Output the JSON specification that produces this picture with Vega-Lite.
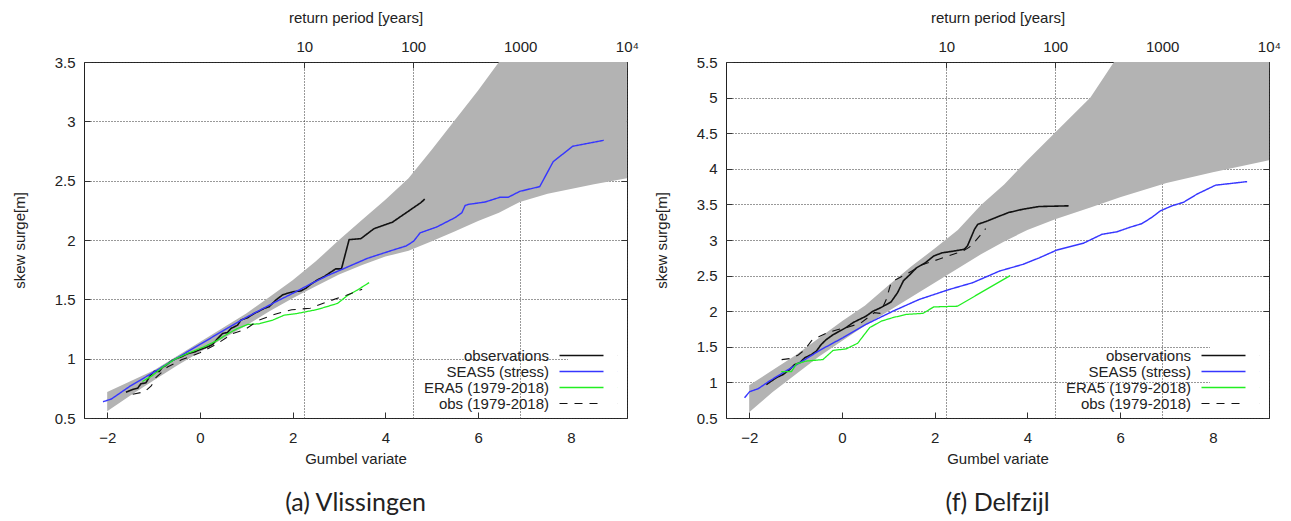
{
  "$schema": "https://vega.github.io/schema/vega-lite/v6.json",
  "background": "white",
  "padding": {"left": 11, "top": 9, "right": 5, "bottom": 0},
  "config": {
    "font": "Liberation Sans",
    "view": {"stroke": "#222", "strokeWidth": 1},
    "axis": {
      "labelFont": "Liberation Sans", "labelFontSize": 15, "labelColor": "#222",
      "titleFont": "Liberation Sans", "titleFontSize": 15, "titleFontWeight": "normal", "titleColor": "#222",
      "domain": false, "tickColor": "#333", "tickWidth": 1,
      "gridColor": "#333", "gridDash": [1, 2], "gridOpacity": 1, "gridWidth": 1,
      "zindex": 1, "labelFlush": false, "labelOverlap": false
    },
    "legend": {
      "orient": "bottom-right", "offset": 0, "padding": 6, "fillColor": "white",
      "labelFont": "Liberation Sans", "labelFontSize": 15, "labelColor": "#222",
      "labelAlign": "right", "labelOffset": -40,
      "symbolType": "M-4,0H4M6.5,0H6.51", "symbolSize": 121, "symbolStrokeWidth": 1.6,
      "rowPadding": 0, "zindex": 2
    },
    "title": {"font": "Lato", "fontSize": 25, "fontWeight": "normal", "color": "#222", "orient": "bottom", "anchor": "middle", "offset": 25}
  },
  "datasets": {
    "a_band": [
      {"g": -2.0, "lo": 0.556, "hi": 0.72},
      {"g": -1.5, "lo": 0.69, "hi": 0.81},
      {"g": -1.0, "lo": 0.816, "hi": 0.9},
      {"g": -0.5, "lo": 0.94, "hi": 1.02},
      {"g": 0.0, "lo": 1.056, "hi": 1.14},
      {"g": 0.5, "lo": 1.17, "hi": 1.26},
      {"g": 1.0, "lo": 1.28, "hi": 1.38},
      {"g": 1.5, "lo": 1.4, "hi": 1.52},
      {"g": 2.0, "lo": 1.51, "hi": 1.66},
      {"g": 2.5, "lo": 1.61, "hi": 1.82},
      {"g": 3.0, "lo": 1.71, "hi": 2.0},
      {"g": 3.5, "lo": 1.79, "hi": 2.17},
      {"g": 4.0, "lo": 1.86, "hi": 2.34},
      {"g": 4.5, "lo": 1.91, "hi": 2.52},
      {"g": 5.0, "lo": 1.99, "hi": 2.76},
      {"g": 5.48, "lo": 2.07, "hi": 3.0},
      {"g": 6.0, "lo": 2.16, "hi": 3.26},
      {"g": 6.45, "lo": 2.23, "hi": 3.5},
      {"g": 6.9, "lo": 2.32, "hi": 3.75},
      {"g": 7.5, "lo": 2.39, "hi": 4.1},
      {"g": 8.0, "lo": 2.43, "hi": 4.4},
      {"g": 8.5, "lo": 2.47, "hi": 4.7},
      {"g": 9.21, "lo": 2.52, "hi": 5.1}
    ],
    "a_lines": [
      {"series": "observations", "g": -1.595, "v": 0.718},
      {"series": "observations", "g": -1.451, "v": 0.74},
      {"series": "observations", "g": -1.343, "v": 0.751},
      {"series": "observations", "g": -1.272, "v": 0.788},
      {"series": "observations", "g": -1.164, "v": 0.797},
      {"series": "observations", "g": -1.07, "v": 0.859},
      {"series": "observations", "g": -0.984, "v": 0.893},
      {"series": "observations", "g": -0.876, "v": 0.893},
      {"series": "observations", "g": -0.805, "v": 0.929},
      {"series": "observations", "g": -0.733, "v": 0.944},
      {"series": "observations", "g": -0.625, "v": 0.977},
      {"series": "observations", "g": -0.517, "v": 1.0},
      {"series": "observations", "g": -0.409, "v": 1.014},
      {"series": "observations", "g": -0.266, "v": 1.042},
      {"series": "observations", "g": -0.122, "v": 1.056},
      {"series": "observations", "g": 0.022, "v": 1.079},
      {"series": "observations", "g": 0.165, "v": 1.099},
      {"series": "observations", "g": 0.273, "v": 1.119},
      {"series": "observations", "g": 0.381, "v": 1.169},
      {"series": "observations", "g": 0.489, "v": 1.212},
      {"series": "observations", "g": 0.596, "v": 1.22},
      {"series": "observations", "g": 0.668, "v": 1.254},
      {"series": "observations", "g": 0.812, "v": 1.282},
      {"series": "observations", "g": 0.884, "v": 1.325},
      {"series": "observations", "g": 1.027, "v": 1.345},
      {"series": "observations", "g": 1.171, "v": 1.381},
      {"series": "observations", "g": 1.279, "v": 1.401},
      {"series": "observations", "g": 1.387, "v": 1.424},
      {"series": "observations", "g": 1.494, "v": 1.438},
      {"series": "observations", "g": 1.638, "v": 1.494},
      {"series": "observations", "g": 1.782, "v": 1.537},
      {"series": "observations", "g": 1.889, "v": 1.551},
      {"series": "observations", "g": 2.033, "v": 1.565},
      {"series": "observations", "g": 2.177, "v": 1.571},
      {"series": "observations", "g": 2.284, "v": 1.593},
      {"series": "observations", "g": 2.392, "v": 1.627},
      {"series": "observations", "g": 2.536, "v": 1.664},
      {"series": "observations", "g": 2.68, "v": 1.692},
      {"series": "observations", "g": 2.787, "v": 1.72},
      {"series": "observations", "g": 2.931, "v": 1.757},
      {"series": "observations", "g": 3.053, "v": 1.757},
      {"series": "observations", "g": 3.218, "v": 2.003},
      {"series": "observations", "g": 3.47, "v": 2.011},
      {"series": "observations", "g": 3.757, "v": 2.096},
      {"series": "observations", "g": 4.152, "v": 2.15},
      {"series": "observations", "g": 4.763, "v": 2.314},
      {"series": "observations", "g": 4.85, "v": 2.345},
      {"series": "SEAS5 (stress)", "g": -2.09, "v": 0.637},
      {"series": "SEAS5 (stress)", "g": -1.91, "v": 0.66},
      {"series": "SEAS5 (stress)", "g": -1.5, "v": 0.77},
      {"series": "SEAS5 (stress)", "g": -1.0, "v": 0.885},
      {"series": "SEAS5 (stress)", "g": -0.52, "v": 1.0},
      {"series": "SEAS5 (stress)", "g": 0.0, "v": 1.12},
      {"series": "SEAS5 (stress)", "g": 0.5, "v": 1.235},
      {"series": "SEAS5 (stress)", "g": 0.96, "v": 1.34},
      {"series": "SEAS5 (stress)", "g": 1.3, "v": 1.41},
      {"series": "SEAS5 (stress)", "g": 1.64, "v": 1.48},
      {"series": "SEAS5 (stress)", "g": 2.0, "v": 1.55},
      {"series": "SEAS5 (stress)", "g": 2.39, "v": 1.63},
      {"series": "SEAS5 (stress)", "g": 2.75, "v": 1.7},
      {"series": "SEAS5 (stress)", "g": 3.11, "v": 1.76},
      {"series": "SEAS5 (stress)", "g": 3.61, "v": 1.845},
      {"series": "SEAS5 (stress)", "g": 4.12, "v": 1.91},
      {"series": "SEAS5 (stress)", "g": 4.45, "v": 1.95},
      {"series": "SEAS5 (stress)", "g": 4.61, "v": 1.99},
      {"series": "SEAS5 (stress)", "g": 4.75, "v": 2.06},
      {"series": "SEAS5 (stress)", "g": 5.11, "v": 2.11},
      {"series": "SEAS5 (stress)", "g": 5.51, "v": 2.19},
      {"series": "SEAS5 (stress)", "g": 5.65, "v": 2.23},
      {"series": "SEAS5 (stress)", "g": 5.72, "v": 2.29},
      {"series": "SEAS5 (stress)", "g": 5.79, "v": 2.3},
      {"series": "SEAS5 (stress)", "g": 6.15, "v": 2.32},
      {"series": "SEAS5 (stress)", "g": 6.47, "v": 2.36},
      {"series": "SEAS5 (stress)", "g": 6.65, "v": 2.36},
      {"series": "SEAS5 (stress)", "g": 6.9, "v": 2.41},
      {"series": "SEAS5 (stress)", "g": 7.33, "v": 2.45},
      {"series": "SEAS5 (stress)", "g": 7.62, "v": 2.66},
      {"series": "SEAS5 (stress)", "g": 8.04, "v": 2.79},
      {"series": "SEAS5 (stress)", "g": 8.71, "v": 2.84},
      {"series": "ERA5 (1979-2018)", "g": -1.24, "v": 0.808},
      {"series": "ERA5 (1979-2018)", "g": -1.02, "v": 0.859},
      {"series": "ERA5 (1979-2018)", "g": -0.8, "v": 0.93},
      {"series": "ERA5 (1979-2018)", "g": -0.52, "v": 1.0},
      {"series": "ERA5 (1979-2018)", "g": -0.19, "v": 1.056},
      {"series": "ERA5 (1979-2018)", "g": 0.09, "v": 1.1},
      {"series": "ERA5 (1979-2018)", "g": 0.38, "v": 1.155},
      {"series": "ERA5 (1979-2018)", "g": 0.6, "v": 1.21},
      {"series": "ERA5 (1979-2018)", "g": 0.81, "v": 1.254},
      {"series": "ERA5 (1979-2018)", "g": 1.03, "v": 1.288},
      {"series": "ERA5 (1979-2018)", "g": 1.28, "v": 1.294},
      {"series": "ERA5 (1979-2018)", "g": 1.57, "v": 1.325},
      {"series": "ERA5 (1979-2018)", "g": 1.82, "v": 1.367},
      {"series": "ERA5 (1979-2018)", "g": 2.1, "v": 1.381},
      {"series": "ERA5 (1979-2018)", "g": 2.54, "v": 1.415},
      {"series": "ERA5 (1979-2018)", "g": 2.97, "v": 1.466},
      {"series": "ERA5 (1979-2018)", "g": 3.18, "v": 1.531},
      {"series": "ERA5 (1979-2018)", "g": 3.4, "v": 1.579},
      {"series": "ERA5 (1979-2018)", "g": 3.65, "v": 1.641},
      {"series": "obs (1979-2018)", "g": -1.45, "v": 0.7},
      {"series": "obs (1979-2018)", "g": -1.2, "v": 0.72},
      {"series": "obs (1979-2018)", "g": -1.05, "v": 0.77},
      {"series": "obs (1979-2018)", "g": -0.95, "v": 0.84},
      {"series": "obs (1979-2018)", "g": -0.7, "v": 0.93},
      {"series": "obs (1979-2018)", "g": -0.4, "v": 0.99},
      {"series": "obs (1979-2018)", "g": -0.2, "v": 1.02},
      {"series": "obs (1979-2018)", "g": 0.0, "v": 1.05},
      {"series": "obs (1979-2018)", "g": 0.2, "v": 1.09},
      {"series": "obs (1979-2018)", "g": 0.35, "v": 1.12},
      {"series": "obs (1979-2018)", "g": 0.7, "v": 1.21},
      {"series": "obs (1979-2018)", "g": 0.97, "v": 1.245},
      {"series": "obs (1979-2018)", "g": 1.27, "v": 1.325},
      {"series": "obs (1979-2018)", "g": 1.62, "v": 1.375},
      {"series": "obs (1979-2018)", "g": 1.98, "v": 1.412},
      {"series": "obs (1979-2018)", "g": 2.38, "v": 1.425},
      {"series": "obs (1979-2018)", "g": 2.75, "v": 1.48},
      {"series": "obs (1979-2018)", "g": 3.16, "v": 1.535},
      {"series": "obs (1979-2018)", "g": 3.5, "v": 1.585}
    ],
    "f_band": [
      {"g": -2.0, "lo": 0.58, "hi": 0.96},
      {"g": -1.5, "lo": 0.86, "hi": 1.17},
      {"g": -1.0, "lo": 1.11, "hi": 1.38},
      {"g": -0.5, "lo": 1.36, "hi": 1.62},
      {"g": 0.0, "lo": 1.58, "hi": 1.86},
      {"g": 0.5, "lo": 1.8, "hi": 2.08},
      {"g": 1.0, "lo": 2.0, "hi": 2.36},
      {"g": 1.5, "lo": 2.2, "hi": 2.63},
      {"g": 2.0, "lo": 2.4, "hi": 2.88},
      {"g": 2.5, "lo": 2.6, "hi": 3.14},
      {"g": 3.0, "lo": 2.8, "hi": 3.49},
      {"g": 3.5, "lo": 2.98, "hi": 3.78},
      {"g": 4.0, "lo": 3.14, "hi": 4.12},
      {"g": 4.6, "lo": 3.29, "hi": 4.51},
      {"g": 5.36, "lo": 3.455, "hi": 5.0},
      {"g": 6.0, "lo": 3.6, "hi": 5.63},
      {"g": 7.0, "lo": 3.8, "hi": 6.3},
      {"g": 8.0, "lo": 3.95, "hi": 7.0},
      {"g": 9.22, "lo": 4.12, "hi": 7.9}
    ],
    "f_lines": [
      {"series": "observations", "g": -1.63, "v": 0.97},
      {"series": "observations", "g": -1.415, "v": 1.066},
      {"series": "observations", "g": -1.27, "v": 1.11},
      {"series": "observations", "g": -1.13, "v": 1.18},
      {"series": "observations", "g": -1.02, "v": 1.25},
      {"series": "observations", "g": -0.91, "v": 1.276},
      {"series": "observations", "g": -0.8, "v": 1.346},
      {"series": "observations", "g": -0.66, "v": 1.39},
      {"series": "observations", "g": -0.55, "v": 1.44},
      {"series": "observations", "g": -0.45, "v": 1.53},
      {"series": "observations", "g": -0.34, "v": 1.6},
      {"series": "observations", "g": -0.19, "v": 1.67},
      {"series": "observations", "g": -0.05, "v": 1.72},
      {"series": "observations", "g": 0.09, "v": 1.77},
      {"series": "observations", "g": 0.24, "v": 1.84},
      {"series": "observations", "g": 0.38, "v": 1.885},
      {"series": "observations", "g": 0.52, "v": 1.93},
      {"series": "observations", "g": 0.67, "v": 2.0},
      {"series": "observations", "g": 0.81, "v": 2.04},
      {"series": "observations", "g": 0.95, "v": 2.09},
      {"series": "observations", "g": 1.06, "v": 2.13},
      {"series": "observations", "g": 1.2, "v": 2.26},
      {"series": "observations", "g": 1.33, "v": 2.43},
      {"series": "observations", "g": 1.46, "v": 2.51},
      {"series": "observations", "g": 1.61, "v": 2.61},
      {"series": "observations", "g": 1.8, "v": 2.68},
      {"series": "observations", "g": 1.98, "v": 2.775},
      {"series": "observations", "g": 2.16, "v": 2.82},
      {"series": "observations", "g": 2.42, "v": 2.845},
      {"series": "observations", "g": 2.64, "v": 2.87},
      {"series": "observations", "g": 2.71, "v": 2.92},
      {"series": "observations", "g": 2.86, "v": 3.15},
      {"series": "observations", "g": 2.93, "v": 3.22},
      {"series": "observations", "g": 3.15, "v": 3.27},
      {"series": "observations", "g": 3.3, "v": 3.31},
      {"series": "observations", "g": 3.59, "v": 3.385},
      {"series": "observations", "g": 3.89, "v": 3.43},
      {"series": "observations", "g": 4.25, "v": 3.47},
      {"series": "observations", "g": 4.89, "v": 3.48},
      {"series": "SEAS5 (stress)", "g": -2.1, "v": 0.785},
      {"series": "SEAS5 (stress)", "g": -1.99, "v": 0.87},
      {"series": "SEAS5 (stress)", "g": -1.81, "v": 0.91},
      {"series": "SEAS5 (stress)", "g": -1.56, "v": 1.02},
      {"series": "SEAS5 (stress)", "g": -1.27, "v": 1.136},
      {"series": "SEAS5 (stress)", "g": -0.91, "v": 1.276},
      {"series": "SEAS5 (stress)", "g": -0.48, "v": 1.45},
      {"series": "SEAS5 (stress)", "g": 0.02, "v": 1.627},
      {"series": "SEAS5 (stress)", "g": 0.52, "v": 1.815},
      {"series": "SEAS5 (stress)", "g": 1.1, "v": 2.0},
      {"series": "SEAS5 (stress)", "g": 1.67, "v": 2.166},
      {"series": "SEAS5 (stress)", "g": 2.32, "v": 2.306},
      {"series": "SEAS5 (stress)", "g": 2.82, "v": 2.4},
      {"series": "SEAS5 (stress)", "g": 3.4, "v": 2.564},
      {"series": "SEAS5 (stress)", "g": 3.9, "v": 2.657},
      {"series": "SEAS5 (stress)", "g": 4.26, "v": 2.75},
      {"series": "SEAS5 (stress)", "g": 4.64, "v": 2.86},
      {"series": "SEAS5 (stress)", "g": 5.21, "v": 2.955},
      {"series": "SEAS5 (stress)", "g": 5.61, "v": 3.08},
      {"series": "SEAS5 (stress)", "g": 5.93, "v": 3.115},
      {"series": "SEAS5 (stress)", "g": 6.22, "v": 3.18},
      {"series": "SEAS5 (stress)", "g": 6.47, "v": 3.23},
      {"series": "SEAS5 (stress)", "g": 6.69, "v": 3.32},
      {"series": "SEAS5 (stress)", "g": 6.87, "v": 3.41},
      {"series": "SEAS5 (stress)", "g": 7.12, "v": 3.48},
      {"series": "SEAS5 (stress)", "g": 7.37, "v": 3.53},
      {"series": "SEAS5 (stress)", "g": 7.66, "v": 3.645},
      {"series": "SEAS5 (stress)", "g": 8.06, "v": 3.77},
      {"series": "SEAS5 (stress)", "g": 8.74, "v": 3.82},
      {"series": "ERA5 (1979-2018)", "g": -1.31, "v": 1.15},
      {"series": "ERA5 (1979-2018)", "g": -1.09, "v": 1.15},
      {"series": "ERA5 (1979-2018)", "g": -0.98, "v": 1.26},
      {"series": "ERA5 (1979-2018)", "g": -0.77, "v": 1.3},
      {"series": "ERA5 (1979-2018)", "g": -0.41, "v": 1.32},
      {"series": "ERA5 (1979-2018)", "g": -0.19, "v": 1.45},
      {"series": "ERA5 (1979-2018)", "g": 0.09, "v": 1.47},
      {"series": "ERA5 (1979-2018)", "g": 0.34, "v": 1.55},
      {"series": "ERA5 (1979-2018)", "g": 0.6, "v": 1.77},
      {"series": "ERA5 (1979-2018)", "g": 0.85, "v": 1.86},
      {"series": "ERA5 (1979-2018)", "g": 1.1, "v": 1.91},
      {"series": "ERA5 (1979-2018)", "g": 1.39, "v": 1.955},
      {"series": "ERA5 (1979-2018)", "g": 1.75, "v": 1.97},
      {"series": "ERA5 (1979-2018)", "g": 1.98, "v": 2.06},
      {"series": "ERA5 (1979-2018)", "g": 2.49, "v": 2.07},
      {"series": "ERA5 (1979-2018)", "g": 3.63, "v": 2.5},
      {"series": "obs (1979-2018)", "g": -1.3, "v": 1.32},
      {"series": "obs (1979-2018)", "g": -1.12, "v": 1.335},
      {"series": "obs (1979-2018)", "g": -0.95, "v": 1.38},
      {"series": "obs (1979-2018)", "g": -0.8, "v": 1.46},
      {"series": "obs (1979-2018)", "g": -0.65, "v": 1.59},
      {"series": "obs (1979-2018)", "g": -0.5, "v": 1.64},
      {"series": "obs (1979-2018)", "g": -0.3, "v": 1.7},
      {"series": "obs (1979-2018)", "g": -0.1, "v": 1.74},
      {"series": "obs (1979-2018)", "g": 0.1, "v": 1.77},
      {"series": "obs (1979-2018)", "g": 0.4, "v": 1.83},
      {"series": "obs (1979-2018)", "g": 0.7, "v": 1.98},
      {"series": "obs (1979-2018)", "g": 0.82, "v": 1.97},
      {"series": "obs (1979-2018)", "g": 0.96, "v": 2.17},
      {"series": "obs (1979-2018)", "g": 1.06, "v": 2.4},
      {"series": "obs (1979-2018)", "g": 1.18, "v": 2.45},
      {"series": "obs (1979-2018)", "g": 1.5, "v": 2.56},
      {"series": "obs (1979-2018)", "g": 1.72, "v": 2.65},
      {"series": "obs (1979-2018)", "g": 2.09, "v": 2.73},
      {"series": "obs (1979-2018)", "g": 2.45, "v": 2.81},
      {"series": "obs (1979-2018)", "g": 2.6, "v": 2.84},
      {"series": "obs (1979-2018)", "g": 2.75, "v": 2.9},
      {"series": "obs (1979-2018)", "g": 2.86, "v": 2.97},
      {"series": "obs (1979-2018)", "g": 3.0, "v": 3.08},
      {"series": "obs (1979-2018)", "g": 3.1, "v": 3.16}
    ]
  },
  "spacing": 14,
  "resolve": {
    "scale": {"color": "independent", "strokeDash": "independent", "strokeWidth": "independent"},
    "legend": {"color": "independent", "strokeDash": "independent", "strokeWidth": "independent"}
  },
  "hconcat": [
    {
      "title": {"text": "(a) Vlissingen"},
      "width": 543,
      "height": 356,
      "resolve": {"axis": {"x": "independent", "y": "independent"}},
      "layer": [
        {
          "data": {"name": "a_band"},
          "mark": {"type": "area", "color": "#b3b3b3", "clip": true},
          "encoding": {
            "x": {"field": "g", "type": "quantitative",
                  "scale": {"domain": [-2.5, 9.212], "nice": false, "zero": false},
                  "axis": {"orient": "bottom", "values": [-2, 0, 2, 4, 6, 8], "grid": false, "tickSize": -6, "labelPadding": 18, "title": "Gumbel variate", "titlePadding": 6}},
            "y": {"field": "lo", "type": "quantitative",
                  "scale": {"domain": [0.5, 3.5], "nice": false, "zero": false},
                  "axis": {"orient": "left", "values": [0.5, 1, 1.5, 2, 2.5, 3, 3.5], "format": "~g", "grid": true, "tickSize": -6, "labelPadding": 15, "title": "skew surge[m]", "titlePadding": 27}},
            "y2": {"field": "hi"}
          }
        },
        {
          "data": {"name": "a_lines"},
          "mark": {"type": "line", "clip": true},
          "encoding": {
            "x": {"field": "g", "type": "quantitative",
                  "scale": {"domain": [-2.5, 9.212], "nice": false, "zero": false},
                  "axis": {"orient": "top", "values": [2.2504, 4.6001, 6.9073, 9.21], "labelExpr": "datum.value < 3 ? '10' : datum.value < 5 ? '100' : datum.value < 8 ? '1000' : '10⁴'", "grid": true, "tickSize": -6, "labelPadding": 14, "title": "return period [years]", "titlePadding": 14}},
            "y": {"field": "v", "type": "quantitative",
                  "scale": {"domain": [0.5, 3.5], "nice": false, "zero": false},
                  "axis": {"orient": "right", "values": [0.5, 1, 1.5, 2, 2.5, 3, 3.5], "labels": false, "grid": false, "tickSize": -6, "title": null}},
            "color": {"field": "series", "type": "nominal",
                      "scale": {"domain": ["observations", "SEAS5 (stress)", "ERA5 (1979-2018)", "obs (1979-2018)"], "range": ["#111111", "#3636ff", "#22ee22", "#111111"]},
                      "legend": {"title": null}},
            "strokeDash": {"field": "series", "type": "nominal",
                      "scale": {"domain": ["observations", "SEAS5 (stress)", "ERA5 (1979-2018)", "obs (1979-2018)"], "range": [[1, 0], [1, 0], [1, 0], [8, 7]]},
                      "legend": {"title": null}},
            "strokeWidth": {"field": "series", "type": "nominal",
                      "scale": {"domain": ["observations", "SEAS5 (stress)", "ERA5 (1979-2018)", "obs (1979-2018)"], "range": [1.6, 1.1, 1.4, 1.9]},
                      "legend": {"title": null}}
          }
        }
      ]
    },
    {
      "title": {"text": "(f) Delfzijl"},
      "width": 543,
      "height": 356,
      "resolve": {"axis": {"x": "independent", "y": "independent"}},
      "layer": [
        {
          "data": {"name": "f_band"},
          "mark": {"type": "area", "color": "#b3b3b3", "clip": true},
          "encoding": {
            "x": {"field": "g", "type": "quantitative",
                  "scale": {"domain": [-2.5, 9.212], "nice": false, "zero": false},
                  "axis": {"orient": "bottom", "values": [-2, 0, 2, 4, 6, 8], "grid": false, "tickSize": -6, "labelPadding": 18, "title": "Gumbel variate", "titlePadding": 6}},
            "y": {"field": "lo", "type": "quantitative",
                  "scale": {"domain": [0.5, 5.5], "nice": false, "zero": false},
                  "axis": {"orient": "left", "values": [0.5, 1, 1.5, 2, 2.5, 3, 3.5, 4, 4.5, 5, 5.5], "format": "~g", "grid": true, "tickSize": -6, "labelPadding": 15, "title": "skew surge[m]", "titlePadding": 27}},
            "y2": {"field": "hi"}
          }
        },
        {
          "data": {"name": "f_lines"},
          "mark": {"type": "line", "clip": true},
          "encoding": {
            "x": {"field": "g", "type": "quantitative",
                  "scale": {"domain": [-2.5, 9.212], "nice": false, "zero": false},
                  "axis": {"orient": "top", "values": [2.2504, 4.6001, 6.9073, 9.21], "labelExpr": "datum.value < 3 ? '10' : datum.value < 5 ? '100' : datum.value < 8 ? '1000' : '10⁴'", "grid": true, "tickSize": -6, "labelPadding": 14, "title": "return period [years]", "titlePadding": 14}},
            "y": {"field": "v", "type": "quantitative",
                  "scale": {"domain": [0.5, 5.5], "nice": false, "zero": false},
                  "axis": {"orient": "right", "values": [0.5, 1, 1.5, 2, 2.5, 3, 3.5, 4, 4.5, 5, 5.5], "labels": false, "grid": false, "tickSize": -6, "title": null}},
            "color": {"field": "series", "type": "nominal",
                      "scale": {"domain": ["observations", "SEAS5 (stress)", "ERA5 (1979-2018)", "obs (1979-2018)"], "range": ["#111111", "#3636ff", "#22ee22", "#111111"]},
                      "legend": {"title": null}},
            "strokeDash": {"field": "series", "type": "nominal",
                      "scale": {"domain": ["observations", "SEAS5 (stress)", "ERA5 (1979-2018)", "obs (1979-2018)"], "range": [[1, 0], [1, 0], [1, 0], [8, 7]]},
                      "legend": {"title": null}},
            "strokeWidth": {"field": "series", "type": "nominal",
                      "scale": {"domain": ["observations", "SEAS5 (stress)", "ERA5 (1979-2018)", "obs (1979-2018)"], "range": [1.6, 1.1, 1.4, 1.9]},
                      "legend": {"title": null}}
          }
        }
      ]
    }
  ]
}
